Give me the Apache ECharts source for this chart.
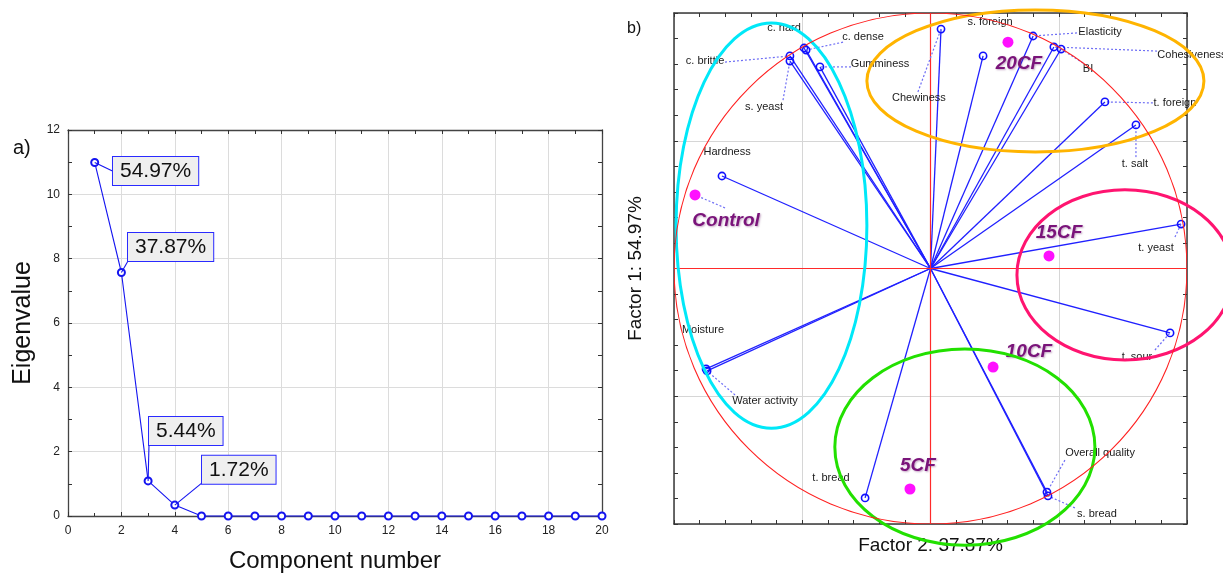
<!DOCTYPE html>
<html><head><meta charset="utf-8">
<script src="https://cdn.jsdelivr.net/npm/echarts@6/dist/echarts.min.js"></script>
<style>html,body{margin:0;padding:0;background:#fff}#c{width:1223px;height:574px}</style>
</head><body><div id="c"></div>
<script>
const FONT = '"Liberation Sans", Arial, Helvetica, sans-serif';

// ---------- Panel a: scree plot ----------
const componentNumbers = [1,2,3,4,5,6,7,8,9,10,11,12,13,14,15,16,17,18,19,20];
const eigenvalues = [10.99, 7.57, 1.09, 0.34, 0,0,0,0,0,0,0,0,0,0,0,0,0,0,0,0];
const pctLabels = ['54.97%', '37.87%', '5.44%', '1.72%'];
// box top-left anchor (data units) and leader end (data units)
const pctBoxX = [1.685, 2.247, 3.034, 5.019];
const pctBoxY = [11.16, 8.80, 3.08, 1.87];
const pctLeadX = [1.685, 2.247, 3.034, 5.019];
const pctLeadY = [10.72, 7.93, 2.24, 1.03];

// ---------- Panel b: PCA biplot ----------
const loadNames = ['c. hard','c. dense','c. brittle','s. yeast','Gumminess','Chewiness','s. foreign','Elasticity','Cohesiveness','BI','t. foreign','t. salt','t. yeast','t. sour','Hardness','Moisture','Water activity','t. bread','Overall quality','s. bread'];
const loadF2 = [-0.493,-0.485,-0.548,-0.548,-0.431, 0.041, 0.205, 0.400, 0.481, 0.509, 0.680, 0.801, 0.977, 0.934,-0.813,-0.875,-0.871,-0.255, 0.454, 0.458];
const loadF1 = [ 0.863, 0.855, 0.832, 0.812, 0.789, 0.937, 0.832, 0.910, 0.867, 0.859, 0.652, 0.562, 0.174,-0.252, 0.362,-0.393,-0.401,-0.898,-0.875,-0.890];
const loadLabelX = [-0.571,-0.263,-0.879,-0.649,-0.197,-0.045, 0.232, 0.661, 1.019, 0.614, 0.953, 0.797, 0.879, 0.805,-0.793,-0.887,-0.645,-0.388, 0.661, 0.649];
const loadLabelY = [ 0.941, 0.906, 0.812, 0.632, 0.800, 0.667, 0.965, 0.926, 0.836, 0.781, 0.648, 0.409, 0.080,-0.346, 0.456,-0.241,-0.519,-0.820,-0.722,-0.961];
const leaderX = [null,-0.341,-0.801,-0.575,-0.310,-0.049, null, 0.571, 0.883, 0.595, 0.867, 0.801, 0.953, 0.875, null, null,-0.762, null, 0.524, 0.563];
const leaderY = [null, 0.886, 0.808, 0.659, 0.789, 0.691, null, 0.922, 0.851, 0.804, 0.648, 0.436, 0.123,-0.319, null, null,-0.495, null,-0.750,-0.937];

const sampleNames = ['Control','20CF','15CF','10CF','5CF'];
const sampleF2 = [-0.918, 0.302, 0.462, 0.244,-0.080];
const sampleF1 = [ 0.288, 0.886, 0.049,-0.386,-0.863];
const sampleLabelX = [-0.797, 0.345, 0.501, 0.384,-0.049];
const sampleLabelY = [ 0.186, 0.800, 0.139,-0.327,-0.773];
const sampleLeadX = [-0.801, null, null, null, null];
const sampleLeadY = [ 0.237, null, null, null, null];

const ellipseCX = [-0.620, 0.409, 0.758, 0.134];
const ellipseCY = [ 0.168, 0.734,-0.025,-0.699];
const ellipseRX = [ 0.372, 0.657, 0.421, 0.507];
const ellipseRY = [ 0.793, 0.278, 0.333, 0.384];
const ellipseColors = ['#00e8f8', '#ffb400', '#ff1470', '#22e000'];

const chart = echarts.init(document.getElementById('c'), null, {renderer: 'canvas'});

const tickStyleA = {show: true, inside: true, length: 4, lineStyle: {color: '#333'}};
const axisLineA = {show: true, onZero: false, lineStyle: {color: '#444', width: 1.3}};
const axisLineB = {show: true, onZero: false, lineStyle: {color: '#3a3a3a', width: 1.5}};
const tickStyleB = {show: true, inside: true, length: 4, lineStyle: {color: '#333'}};

const option = {
  animation: false,
  backgroundColor: '#ffffff',
  textStyle: {fontFamily: FONT},
  grid: [
    {left: 68, top: 130, width: 534, height: 386, outerBoundsMode: 'none'},
    {left: 674, top: 13, width: 513, height: 511, outerBoundsMode: 'none'}
  ],
  xAxis: [
    {gridIndex: 0, type: 'value', position: 'bottom', min: 0, max: 20, interval: 2,
     axisLine: axisLineA, axisTick: tickStyleA,
     minorTick: {show: true, splitNumber: 2, length: 3, lineStyle: {color: '#333'}},
     axisLabel: {color: '#222', fontSize: 12, margin: 9, fontFamily: FONT},
     splitLine: {show: true, lineStyle: {color: '#dcdcdc', width: 1}},
     name: 'Component number', nameLocation: 'middle', nameGap: 33,
     nameTextStyle: {fontSize: 24, color: '#111', fontFamily: FONT}},
    {gridIndex: 0, type: 'value', position: 'top', min: 0, max: 20, interval: 2,
     axisLine: axisLineA, axisTick: tickStyleA,
     minorTick: {show: true, splitNumber: 2, length: 4, lineStyle: {color: '#333'}},
     axisLabel: {show: false}, splitLine: {show: false}},
    {gridIndex: 1, type: 'value', position: 'bottom', min: -1, max: 1, interval: 0.5,
     axisLine: axisLineB, axisTick: tickStyleB,
     minorTick: {show: true, splitNumber: 5, length: 4, lineStyle: {color: '#333'}},
     axisLabel: {show: false},
     splitLine: {show: true, lineStyle: {color: '#d6d6d6', width: 1}},
     name: 'Factor 2: 37.87%', nameLocation: 'middle', nameGap: 12,
     nameTextStyle: {fontSize: 19, color: '#111', fontFamily: FONT}},
    {gridIndex: 1, type: 'value', position: 'top', min: -1, max: 1, interval: 0.5,
     axisLine: axisLineB, axisTick: tickStyleB,
     minorTick: {show: true, splitNumber: 5, length: 4, lineStyle: {color: '#333'}},
     axisLabel: {show: false}, splitLine: {show: false}}
  ],
  yAxis: [
    {gridIndex: 0, type: 'value', position: 'left', min: 0, max: 12, interval: 2,
     axisLine: axisLineA, axisTick: tickStyleA,
     minorTick: {show: true, splitNumber: 2, length: 4, lineStyle: {color: '#333'}},
     axisLabel: {color: '#222', fontSize: 12, margin: 8, fontFamily: FONT},
     splitLine: {show: true, lineStyle: {color: '#dcdcdc', width: 1}},
     name: 'Eigenvalue', nameLocation: 'middle', nameGap: 32,
     nameTextStyle: {fontSize: 25, color: '#111', fontFamily: FONT}},
    {gridIndex: 0, type: 'value', position: 'right', min: 0, max: 12, interval: 2,
     axisLine: axisLineA, axisTick: tickStyleA,
     minorTick: {show: true, splitNumber: 2, length: 4, lineStyle: {color: '#333'}},
     axisLabel: {show: false}, splitLine: {show: false}},
    {gridIndex: 1, type: 'value', position: 'left', min: -1, max: 1, interval: 0.5,
     axisLine: axisLineB, axisTick: tickStyleB,
     minorTick: {show: true, splitNumber: 5, length: 4, lineStyle: {color: '#333'}},
     axisLabel: {show: false},
     splitLine: {show: true, lineStyle: {color: '#d6d6d6', width: 1}},
     name: 'Factor 1: 54.97%', nameLocation: 'middle', nameGap: 29,
     nameTextStyle: {fontSize: 19, color: '#111', fontFamily: FONT}},
    {gridIndex: 1, type: 'value', position: 'right', min: -1, max: 1, interval: 0.5,
     axisLine: axisLineB, axisTick: tickStyleB,
     minorTick: {show: true, splitNumber: 5, length: 4, lineStyle: {color: '#333'}},
     axisLabel: {show: false}, splitLine: {show: false}}
  ],
  graphic: [
    {type: 'text', left: 13, top: 138, style: {text: 'a)', font: '20px ' + FONT, fill: '#111'}},
    {type: 'text', left: 627, top: 21, style: {text: 'b)', font: '16px ' + FONT, fill: '#111'}}
  ],
  series: [
    // ---- panel a ----
    {type: 'line', xAxisIndex: 0, yAxisIndex: 0, clip: false,
     data: componentNumbers.map((c, i) => [c, eigenvalues[i]]),
     symbol: 'emptyCircle', symbolSize: 7,
     lineStyle: {color: '#1414f0', width: 1.1},
     itemStyle: {color: '#1414f0', borderWidth: 1.6}, z: 5},
    {type: 'custom', coordinateSystem: 'cartesian2d', xAxisIndex: 0, yAxisIndex: 0, clip: false, z: 6,
     data: pctLabels.map((t, i) => [componentNumbers[i], eigenvalues[i]]),
     renderItem: (params, api) => {
       const i = params.dataIndex;
       const p = api.coord([api.value(0), api.value(1)]);
       const b = api.coord([pctBoxX[i], pctBoxY[i]]);
       const l = api.coord([pctLeadX[i], pctLeadY[i]]);
       return {type: 'group', children: [
         {type: 'line', shape: {x1: p[0], y1: p[1], x2: l[0], y2: l[1]}, style: {stroke: '#1414f0', lineWidth: 1.1}},
         {type: 'text', x: b[0], y: b[1], style: {text: pctLabels[i], font: '21px ' + FONT, fill: '#111',
           align: 'left', verticalAlign: 'top', backgroundColor: '#efefef', borderColor: '#2a2aff',
           borderWidth: 1, padding: [3, 7, 2, 7], lineHeight: 23}}
       ]};
     }},
    // ---- panel b ----
    {type: 'custom', coordinateSystem: 'cartesian2d', xAxisIndex: 2, yAxisIndex: 2, clip: false, z: 3,
     data: loadNames.map((n, i) => [loadF2[i], loadF1[i]]),
     renderItem: (params, api) => {
       const o = api.coord([0, 0]);
       const p = api.coord([api.value(0), api.value(1)]);
       return {type: 'line', shape: {x1: o[0], y1: o[1], x2: p[0], y2: p[1]}, style: {stroke: '#2020ff', lineWidth: 1.3}};
     }},
    {type: 'line', xAxisIndex: 2, yAxisIndex: 2, data: [[-1, 0], [1, 0]], symbol: 'none', silent: true,
     lineStyle: {color: '#ff2a2a', width: 1.2}, z: 4},
    {type: 'line', xAxisIndex: 2, yAxisIndex: 2, data: [[0, -1], [0, 1]], symbol: 'none', silent: true,
     lineStyle: {color: '#ff2a2a', width: 1.2}, z: 4},
    {type: 'custom', coordinateSystem: 'cartesian2d', xAxisIndex: 2, yAxisIndex: 2, clip: false, z: 5,
     data: loadNames.map((n, i) => [loadF2[i], loadF1[i]]),
     renderItem: (params, api) => {
       const i = params.dataIndex;
       const p = api.coord([api.value(0), api.value(1)]);
       const t = api.coord([loadLabelX[i], loadLabelY[i]]);
       const ch = [];
       if (leaderX[i] !== null) {
         const l = api.coord([leaderX[i], leaderY[i]]);
         ch.push({type: 'line', shape: {x1: l[0], y1: l[1], x2: p[0], y2: p[1]},
           style: {stroke: '#6f6ff5', lineWidth: 1.2, lineDash: [2, 2]}});
       }
       ch.push({type: 'circle', shape: {cx: p[0], cy: p[1], r: 3.6},
         style: {fill: 'rgba(255,255,255,0)', stroke: '#1010ff', lineWidth: 1.6}});
       ch.push({type: 'text', x: t[0], y: t[1], style: {text: loadNames[i], font: '11px ' + FONT,
         fill: '#1a1a1a', align: 'center', verticalAlign: 'middle'}});
       return {type: 'group', children: ch};
     }},
    {type: 'custom', coordinateSystem: 'cartesian2d', xAxisIndex: 2, yAxisIndex: 2, clip: false, z: 6,
     data: sampleNames.map((n, i) => [sampleF2[i], sampleF1[i]]),
     renderItem: (params, api) => {
       const i = params.dataIndex;
       const p = api.coord([api.value(0), api.value(1)]);
       const t = api.coord([sampleLabelX[i], sampleLabelY[i]]);
       const ch = [];
       if (sampleLeadX[i] !== null) {
         const l = api.coord([sampleLeadX[i], sampleLeadY[i]]);
         ch.push({type: 'line', shape: {x1: l[0], y1: l[1], x2: p[0], y2: p[1]},
           style: {stroke: '#6f6ff5', lineWidth: 1.2, lineDash: [2, 2]}});
       }
       ch.push({type: 'circle', shape: {cx: p[0], cy: p[1], r: 5.5}, style: {fill: '#ff10ff', stroke: 'none'}});
       ch.push({type: 'text', x: t[0], y: t[1], style: {text: sampleNames[i],
         font: 'italic bold 19px ' + FONT, fill: '#7a147a', align: 'center', verticalAlign: 'middle',
         textShadowColor: 'rgba(90,0,90,0.35)', textShadowBlur: 2, textShadowOffsetX: 1, textShadowOffsetY: 1}});
       return {type: 'group', children: ch};
     }},
    {type: 'custom', coordinateSystem: 'cartesian2d', xAxisIndex: 2, yAxisIndex: 2, clip: false, z: 8,
     data: ellipseCX.map((c, i) => [c, ellipseCY[i], ellipseRX[i], ellipseRY[i]]),
     renderItem: (params, api) => {
       const c = api.coord([api.value(0), api.value(1)]);
       const s = api.size([api.value(2), api.value(3)]);
       return {type: 'ellipse', shape: {cx: c[0], cy: c[1], rx: s[0], ry: s[1]},
         style: {fill: 'none', stroke: ellipseColors[params.dataIndex], lineWidth: 3}};
     }},
    {type: 'custom', coordinateSystem: 'cartesian2d', xAxisIndex: 2, yAxisIndex: 2, clip: true, z: 9,
     data: [[0, 0, 1, 1]],
     renderItem: (params, api) => {
       const c = api.coord([api.value(0), api.value(1)]);
       const s = api.size([api.value(2), api.value(3)]);
       return {type: 'ellipse', shape: {cx: c[0], cy: c[1], rx: s[0], ry: s[1]},
         style: {fill: 'none', stroke: '#ff2020', lineWidth: 1.1}};
     }}
  ]
};
chart.setOption(option);
</script>
</body></html>
